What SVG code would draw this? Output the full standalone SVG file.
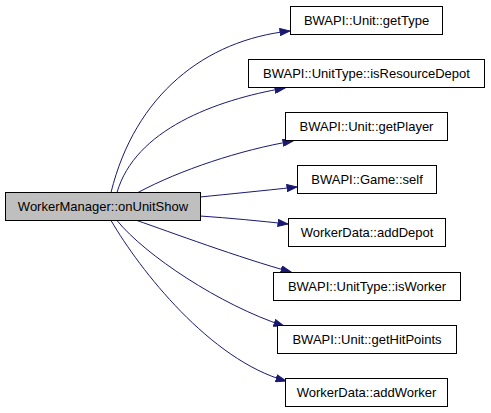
<svg xmlns="http://www.w3.org/2000/svg" width="491" height="413" viewBox="0 0 491 413">
<style>
.n rect{fill:#ffffff;stroke:#000000;stroke-width:1}
.n.main rect{fill:#bfbfbf}
.n text{font-family:"Liberation Sans",Arial,sans-serif;font-size:13px;fill:#000000;text-anchor:middle}
.e path{fill:none;stroke:#191970;stroke-width:1;marker-end:url(#ah)}
</style>
<defs>
<marker id="ah" viewBox="0 0 11 8" markerWidth="11" markerHeight="8" markerUnits="userSpaceOnUse" refX="10.5" refY="4" orient="auto">
<path d="M0.5,0.5 L10.5,4 L0.5,7.5 z" fill="#191970" stroke="#191970" stroke-width="1"/>
</marker>
</defs>
<rect width="491" height="413" fill="#ffffff"/>
<g id="edges" class="e">
<path d="M111,192.5 C135,95 205,40 290,31"/>
<path d="M117,192.5 C135,130 215,100 285,88"/>
<path d="M138,192.5 C180,170 240,150 293,141"/>
<path d="M200,197 C230,194 260,191 297,187"/>
<path d="M200,216 C230,218 260,221 288,224"/>
<path d="M137,220.5 C170,232 240,258 291,272"/>
<path d="M117,220.5 C145,255 220,305 284,326"/>
<path d="M111,220.5 C140,270 210,360 286,381"/>
</g>
<g id="node-main" class="n main"><rect x="5.5" y="192.5" width="195" height="28"/><text x="103" y="211">WorkerManager::onUnitShow</text></g>
<g id="node-getType" class="n"><rect x="290.5" y="6.5" width="152" height="28"/><text x="366.5" y="25">BWAPI::Unit::getType</text></g>
<g id="node-isResourceDepot" class="n"><rect x="248.5" y="59.5" width="236" height="28"/><text x="366.5" y="78">BWAPI::UnitType::isResourceDepot</text></g>
<g id="node-getPlayer" class="n"><rect x="285.5" y="112.5" width="162" height="28"/><text x="366.5" y="131">BWAPI::Unit::getPlayer</text></g>
<g id="node-self" class="n"><rect x="297.5" y="165.5" width="139" height="28"/><text x="367" y="184">BWAPI::Game::self</text></g>
<g id="node-addDepot" class="n"><rect x="288.5" y="218.5" width="157" height="28"/><text x="367" y="237">WorkerData::addDepot</text></g>
<g id="node-isWorker" class="n"><rect x="273.5" y="272.5" width="187" height="28"/><text x="367" y="291">BWAPI::UnitType::isWorker</text></g>
<g id="node-getHitPoints" class="n"><rect x="277.5" y="325.5" width="179" height="28"/><text x="367" y="344">BWAPI::Unit::getHitPoints</text></g>
<g id="node-addWorker" class="n"><rect x="285.5" y="378.5" width="162" height="28"/><text x="366.5" y="397">WorkerData::addWorker</text></g>
</svg>
